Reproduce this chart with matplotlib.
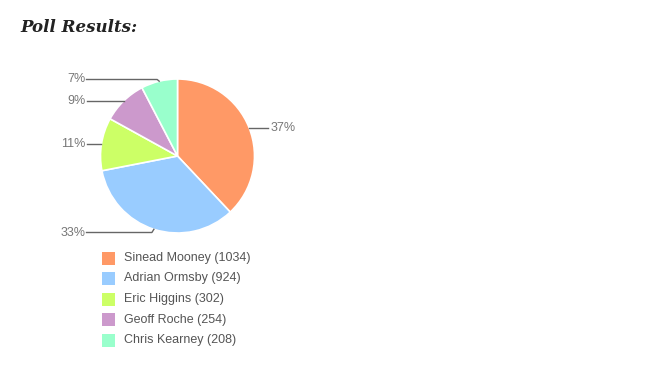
import numpy as np
import matplotlib
matplotlib.use('Agg')
import matplotlib.pyplot as plt
from matplotlib.patches import Rectangle

# poll data
names = ['Sinead Mooney', 'Adrian Ormsby', 'Eric Higgins', 'Geoff Roche', 'Chris Kearney']
votes = [1034, 924, 302, 254, 208]
pct_labels = ['37%', '33%', '11%', '9%', '7%']
colors = ['#ff9966', '#99ccff', '#ccff66', '#cc99cc', '#99ffcc']

W, H = 650, 368
fig = plt.figure(figsize=(W / 100, H / 100), dpi=100)
ax = fig.add_axes([0, 0, 1, 1])

cx, cy, r = 177.5, H - 156, 77
wedges, _ = ax.pie(votes, colors=colors, startangle=90, counterclock=False,
                   center=(cx, cy), radius=r, frame=True,
                   wedgeprops=dict(edgecolor='white', linewidth=1.2))
ax.set_xlim(0, W)
ax.set_ylim(0, H)
ax.set_aspect('auto')
ax.axis('off')

# leader lines + percentage labels (labels near the top/bottom pushed out to the pie edge)
for w, lab in zip(wedges, pct_labels):
    mid = np.deg2rad((w.theta1 + w.theta2) / 2)
    ax_x = cx + r * np.cos(mid)
    ax_y = cy + r * np.sin(mid)
    ly = ax_y
    if abs(np.sin(mid)) > 0.9:
        ly = cy + np.sign(np.sin(mid)) * (r - 0.5)
    if np.cos(mid) > 0:
        tx = cx + r + 16
        ax.plot([ax_x, ax_x + 2, tx - 3], [ax_y, ly, ly], color='#666666', lw=1)
        ax.text(tx, ly, lab, ha='left', va='center', fontsize=9,
                color='#777777', family='Liberation Sans')
    else:
        tx = cx - r - 15
        ax.plot([ax_x, ax_x - 2, tx + 1], [ax_y, ly, ly], color='#666666', lw=1)
        ax.text(tx, ly, lab, ha='right', va='center', fontsize=9,
                color='#777777', family='Liberation Sans')

# legend
ly0 = H - 258
for i, (n, v, c) in enumerate(zip(names, votes, colors)):
    y = ly0 - i * 20.5
    ax.add_patch(Rectangle((102, y - 6.5), 13, 13, facecolor=c, edgecolor='none'))
    ax.text(124, y, f'{n} ({v})', ha='left', va='center', fontsize=9,
            color='#555555', family='Liberation Sans')

fig.text(20 / W, 1 - 27 / H, 'Poll Results:', ha='left', va='center',
         fontsize=12, fontweight='bold', fontstyle='italic',
         family='DejaVu Serif', color='#222222')

fig.savefig('out.png', dpi=100)
